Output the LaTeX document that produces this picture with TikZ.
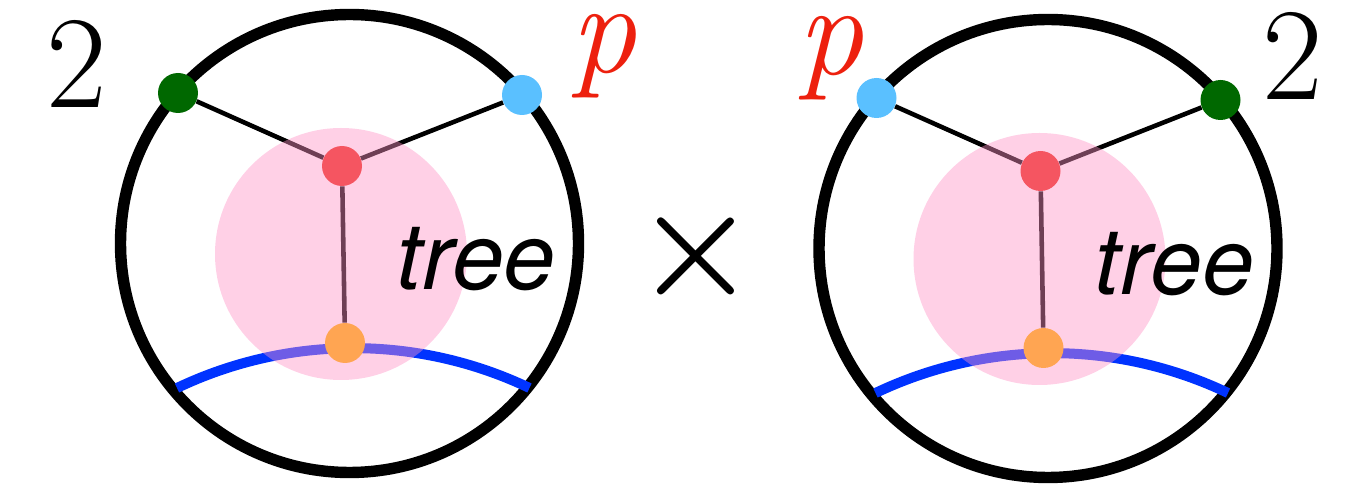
\documentclass[tikz,border=0pt]{standalone}
\usepackage{fontspec}
\newfontfamily\treefont{TeX Gyre Heros}
\usetikzlibrary{positioning}

\pgfdeclarelayer{edges}
\pgfdeclarelayer{blob}
\pgfsetlayers{edges,blob,main}

\definecolor{dotgreen}{RGB}{0,104,0}
\definecolor{dotblue}{RGB}{90,192,255}
\definecolor{dotred}{RGB}{245,85,97}
\definecolor{dotorange}{RGB}{255,165,82}
\definecolor{cutblue}{RGB}{0,51,255}
\definecolor{blobpink}{RGB}{255,147,198}
\definecolor{labelred}{RGB}{237,32,14}

\begin{document}
\begin{tikzpicture}[
		x=0.02cm, y=0.02cm,
		ring/.style={
			draw=black,
			line width=6.5pt
		},
		leg/.style={
			draw=black,
			line width=2.6pt
		},
		cut/.style={
			draw=cutblue,
			line width=5.7pt
		},
		haze/.style={
			fill=blobpink,
			fill opacity=0.43
		},
		dot/.style={
			circle,
			minimum size=0.8cm,
			inner sep=0pt
		},
		tag/.style={
			font=\rmfamily\fontsize{75}{75}\selectfont,
			inner sep=0pt
		},
		treetag/.style={
			font=\treefont\itshape\fontsize{53}{53}\selectfont,
			anchor=base,
			inner sep=0pt
		}
		]
		
		\useasboundingbox (0,0) rectangle (1369,490);
		
		% Both circles
		\foreach \side/\dx/\dy/\ca/\cb in {L/0/0/dotgreen/dotblue, R/698.5/-5/dotblue/dotgreen}
		{
			\begin{scope}[shift={(\dx,\dy)}]
				\node[dot, fill=\ca] (\side-a) at (178,397) {};
				\node[dot, fill=\cb] (\side-b) at (522,395) {};
				\node[dot, fill=dotred] (\side-mid) at (342,324) {};
				\node[dot, fill=dotorange] (\side-foot) at (345,147) {};
				
				\begin{pgfonlayer}{edges}
					\draw[ring] (349.5,246.5) circle (229);
					\draw[leg] (\side-a) -- (\side-mid);
					\draw[leg] (\side-b) -- (\side-mid);
					\draw[leg] (\side-mid) -- (\side-foot);
					\coordinate (\side-cut) at (177,102);
					\draw[cut] (\side-cut) arc[start angle=115.5, end angle=64.5, radius=409.4];
				\end{pgfonlayer}
				
				\begin{pgfonlayer}{blob}
					\fill[haze] (341,236) circle (126);
				\end{pgfonlayer}
				
				\node[treetag] (\side-tree) at (476,200) {tree};
			\end{scope}
		}
		
		% Labels
		\node[tag] (L-two) at (77,426) {2};
		\node[tag, text=labelred] (L-p) at (603,434) {\itshape p};
		\node[tag, font=\rmfamily\bfseries\fontsize{80}{80}\selectfont] (times) at (696,234) {×};
		\node[tag, text=labelred] (R-p) at (830,432) {\itshape p};
		\node[tag] (R-two) at (1292.5,434) {2};
		
	\end{tikzpicture}
\end{document}
